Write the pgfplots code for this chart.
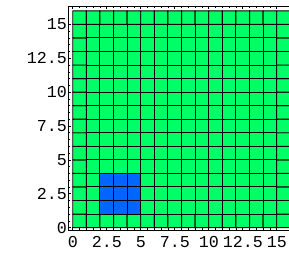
\documentclass[border=0pt]{standalone}
\usepackage{fontspec}
\setmainfont{Liberation Mono}
\usepackage{pgfplots}
\pgfplotsset{compat=1.18}
\definecolor{cgreen}{RGB}{0,255,102}
\definecolor{cblue}{RGB}{0,102,255}
\begin{document}
\begin{tikzpicture}
\begin{axis}[
  x=10.2pt, y=10.16pt,
  xmin=-0.32, xmax=16.32, ymin=-0.17, ymax=16.36,
  axis line style={black, line width=0.5pt},
  tick align=inside,
  xtick={0,2.5,5,7.5,10,12.5,15},
  ytick={0,2.5,5,7.5,10,12.5,15},
  xticklabels={0,2.5,5,7.5,10,12.5,15},
  yticklabels={0,2.5,5,7.5,10,12.5,15},
  minor tick num=4,
  major tick length=2.2pt,
  minor tick length=1.2pt,
  tick style={black, line width=0.4pt},
  ticklabel style={font=\fontsize{12.5}{13}\selectfont, inner sep=1pt},
  xticklabel style={yshift=-4pt},
  colormap={gb}{rgb255=(0,102,255) rgb255=(0,255,102)},
  point meta min=0, point meta max=1,
]
\addplot[matrix plot*, mesh/cols=16, mesh/rows=16, point meta=explicit, draw=black, line width=0.7pt] coordinates {
(0.5,0.5)[1] (1.5,0.5)[1] (2.5,0.5)[1] (3.5,0.5)[1] (4.5,0.5)[1] (5.5,0.5)[1] (6.5,0.5)[1] (7.5,0.5)[1] (8.5,0.5)[1] (9.5,0.5)[1] (10.5,0.5)[1] (11.5,0.5)[1] (12.5,0.5)[1] (13.5,0.5)[1] (14.5,0.5)[1] (15.5,0.5)[1]
(0.5,1.5)[1] (1.5,1.5)[1] (2.5,1.5)[0] (3.5,1.5)[0] (4.5,1.5)[0] (5.5,1.5)[1] (6.5,1.5)[1] (7.5,1.5)[1] (8.5,1.5)[1] (9.5,1.5)[1] (10.5,1.5)[1] (11.5,1.5)[1] (12.5,1.5)[1] (13.5,1.5)[1] (14.5,1.5)[1] (15.5,1.5)[1]
(0.5,2.5)[1] (1.5,2.5)[1] (2.5,2.5)[0] (3.5,2.5)[0] (4.5,2.5)[0] (5.5,2.5)[1] (6.5,2.5)[1] (7.5,2.5)[1] (8.5,2.5)[1] (9.5,2.5)[1] (10.5,2.5)[1] (11.5,2.5)[1] (12.5,2.5)[1] (13.5,2.5)[1] (14.5,2.5)[1] (15.5,2.5)[1]
(0.5,3.5)[1] (1.5,3.5)[1] (2.5,3.5)[0] (3.5,3.5)[0] (4.5,3.5)[0] (5.5,3.5)[1] (6.5,3.5)[1] (7.5,3.5)[1] (8.5,3.5)[1] (9.5,3.5)[1] (10.5,3.5)[1] (11.5,3.5)[1] (12.5,3.5)[1] (13.5,3.5)[1] (14.5,3.5)[1] (15.5,3.5)[1]
(0.5,4.5)[1] (1.5,4.5)[1] (2.5,4.5)[1] (3.5,4.5)[1] (4.5,4.5)[1] (5.5,4.5)[1] (6.5,4.5)[1] (7.5,4.5)[1] (8.5,4.5)[1] (9.5,4.5)[1] (10.5,4.5)[1] (11.5,4.5)[1] (12.5,4.5)[1] (13.5,4.5)[1] (14.5,4.5)[1] (15.5,4.5)[1]
(0.5,5.5)[1] (1.5,5.5)[1] (2.5,5.5)[1] (3.5,5.5)[1] (4.5,5.5)[1] (5.5,5.5)[1] (6.5,5.5)[1] (7.5,5.5)[1] (8.5,5.5)[1] (9.5,5.5)[1] (10.5,5.5)[1] (11.5,5.5)[1] (12.5,5.5)[1] (13.5,5.5)[1] (14.5,5.5)[1] (15.5,5.5)[1]
(0.5,6.5)[1] (1.5,6.5)[1] (2.5,6.5)[1] (3.5,6.5)[1] (4.5,6.5)[1] (5.5,6.5)[1] (6.5,6.5)[1] (7.5,6.5)[1] (8.5,6.5)[1] (9.5,6.5)[1] (10.5,6.5)[1] (11.5,6.5)[1] (12.5,6.5)[1] (13.5,6.5)[1] (14.5,6.5)[1] (15.5,6.5)[1]
(0.5,7.5)[1] (1.5,7.5)[1] (2.5,7.5)[1] (3.5,7.5)[1] (4.5,7.5)[1] (5.5,7.5)[1] (6.5,7.5)[1] (7.5,7.5)[1] (8.5,7.5)[1] (9.5,7.5)[1] (10.5,7.5)[1] (11.5,7.5)[1] (12.5,7.5)[1] (13.5,7.5)[1] (14.5,7.5)[1] (15.5,7.5)[1]
(0.5,8.5)[1] (1.5,8.5)[1] (2.5,8.5)[1] (3.5,8.5)[1] (4.5,8.5)[1] (5.5,8.5)[1] (6.5,8.5)[1] (7.5,8.5)[1] (8.5,8.5)[1] (9.5,8.5)[1] (10.5,8.5)[1] (11.5,8.5)[1] (12.5,8.5)[1] (13.5,8.5)[1] (14.5,8.5)[1] (15.5,8.5)[1]
(0.5,9.5)[1] (1.5,9.5)[1] (2.5,9.5)[1] (3.5,9.5)[1] (4.5,9.5)[1] (5.5,9.5)[1] (6.5,9.5)[1] (7.5,9.5)[1] (8.5,9.5)[1] (9.5,9.5)[1] (10.5,9.5)[1] (11.5,9.5)[1] (12.5,9.5)[1] (13.5,9.5)[1] (14.5,9.5)[1] (15.5,9.5)[1]
(0.5,10.5)[1] (1.5,10.5)[1] (2.5,10.5)[1] (3.5,10.5)[1] (4.5,10.5)[1] (5.5,10.5)[1] (6.5,10.5)[1] (7.5,10.5)[1] (8.5,10.5)[1] (9.5,10.5)[1] (10.5,10.5)[1] (11.5,10.5)[1] (12.5,10.5)[1] (13.5,10.5)[1] (14.5,10.5)[1] (15.5,10.5)[1]
(0.5,11.5)[1] (1.5,11.5)[1] (2.5,11.5)[1] (3.5,11.5)[1] (4.5,11.5)[1] (5.5,11.5)[1] (6.5,11.5)[1] (7.5,11.5)[1] (8.5,11.5)[1] (9.5,11.5)[1] (10.5,11.5)[1] (11.5,11.5)[1] (12.5,11.5)[1] (13.5,11.5)[1] (14.5,11.5)[1] (15.5,11.5)[1]
(0.5,12.5)[1] (1.5,12.5)[1] (2.5,12.5)[1] (3.5,12.5)[1] (4.5,12.5)[1] (5.5,12.5)[1] (6.5,12.5)[1] (7.5,12.5)[1] (8.5,12.5)[1] (9.5,12.5)[1] (10.5,12.5)[1] (11.5,12.5)[1] (12.5,12.5)[1] (13.5,12.5)[1] (14.5,12.5)[1] (15.5,12.5)[1]
(0.5,13.5)[1] (1.5,13.5)[1] (2.5,13.5)[1] (3.5,13.5)[1] (4.5,13.5)[1] (5.5,13.5)[1] (6.5,13.5)[1] (7.5,13.5)[1] (8.5,13.5)[1] (9.5,13.5)[1] (10.5,13.5)[1] (11.5,13.5)[1] (12.5,13.5)[1] (13.5,13.5)[1] (14.5,13.5)[1] (15.5,13.5)[1]
(0.5,14.5)[1] (1.5,14.5)[1] (2.5,14.5)[1] (3.5,14.5)[1] (4.5,14.5)[1] (5.5,14.5)[1] (6.5,14.5)[1] (7.5,14.5)[1] (8.5,14.5)[1] (9.5,14.5)[1] (10.5,14.5)[1] (11.5,14.5)[1] (12.5,14.5)[1] (13.5,14.5)[1] (14.5,14.5)[1] (15.5,14.5)[1]
(0.5,15.5)[1] (1.5,15.5)[1] (2.5,15.5)[1] (3.5,15.5)[1] (4.5,15.5)[1] (5.5,15.5)[1] (6.5,15.5)[1] (7.5,15.5)[1] (8.5,15.5)[1] (9.5,15.5)[1] (10.5,15.5)[1] (11.5,15.5)[1] (12.5,15.5)[1] (13.5,15.5)[1] (14.5,15.5)[1] (15.5,15.5)[1]
};
\coordinate (bbl) at (axis cs:-5.35,-1.94);
\coordinate (btr) at (axis cs:15.9,16.8);
\end{axis}
\pgfresetboundingbox
\path[use as bounding box] (bbl) rectangle (btr);
\end{tikzpicture}
\end{document}
